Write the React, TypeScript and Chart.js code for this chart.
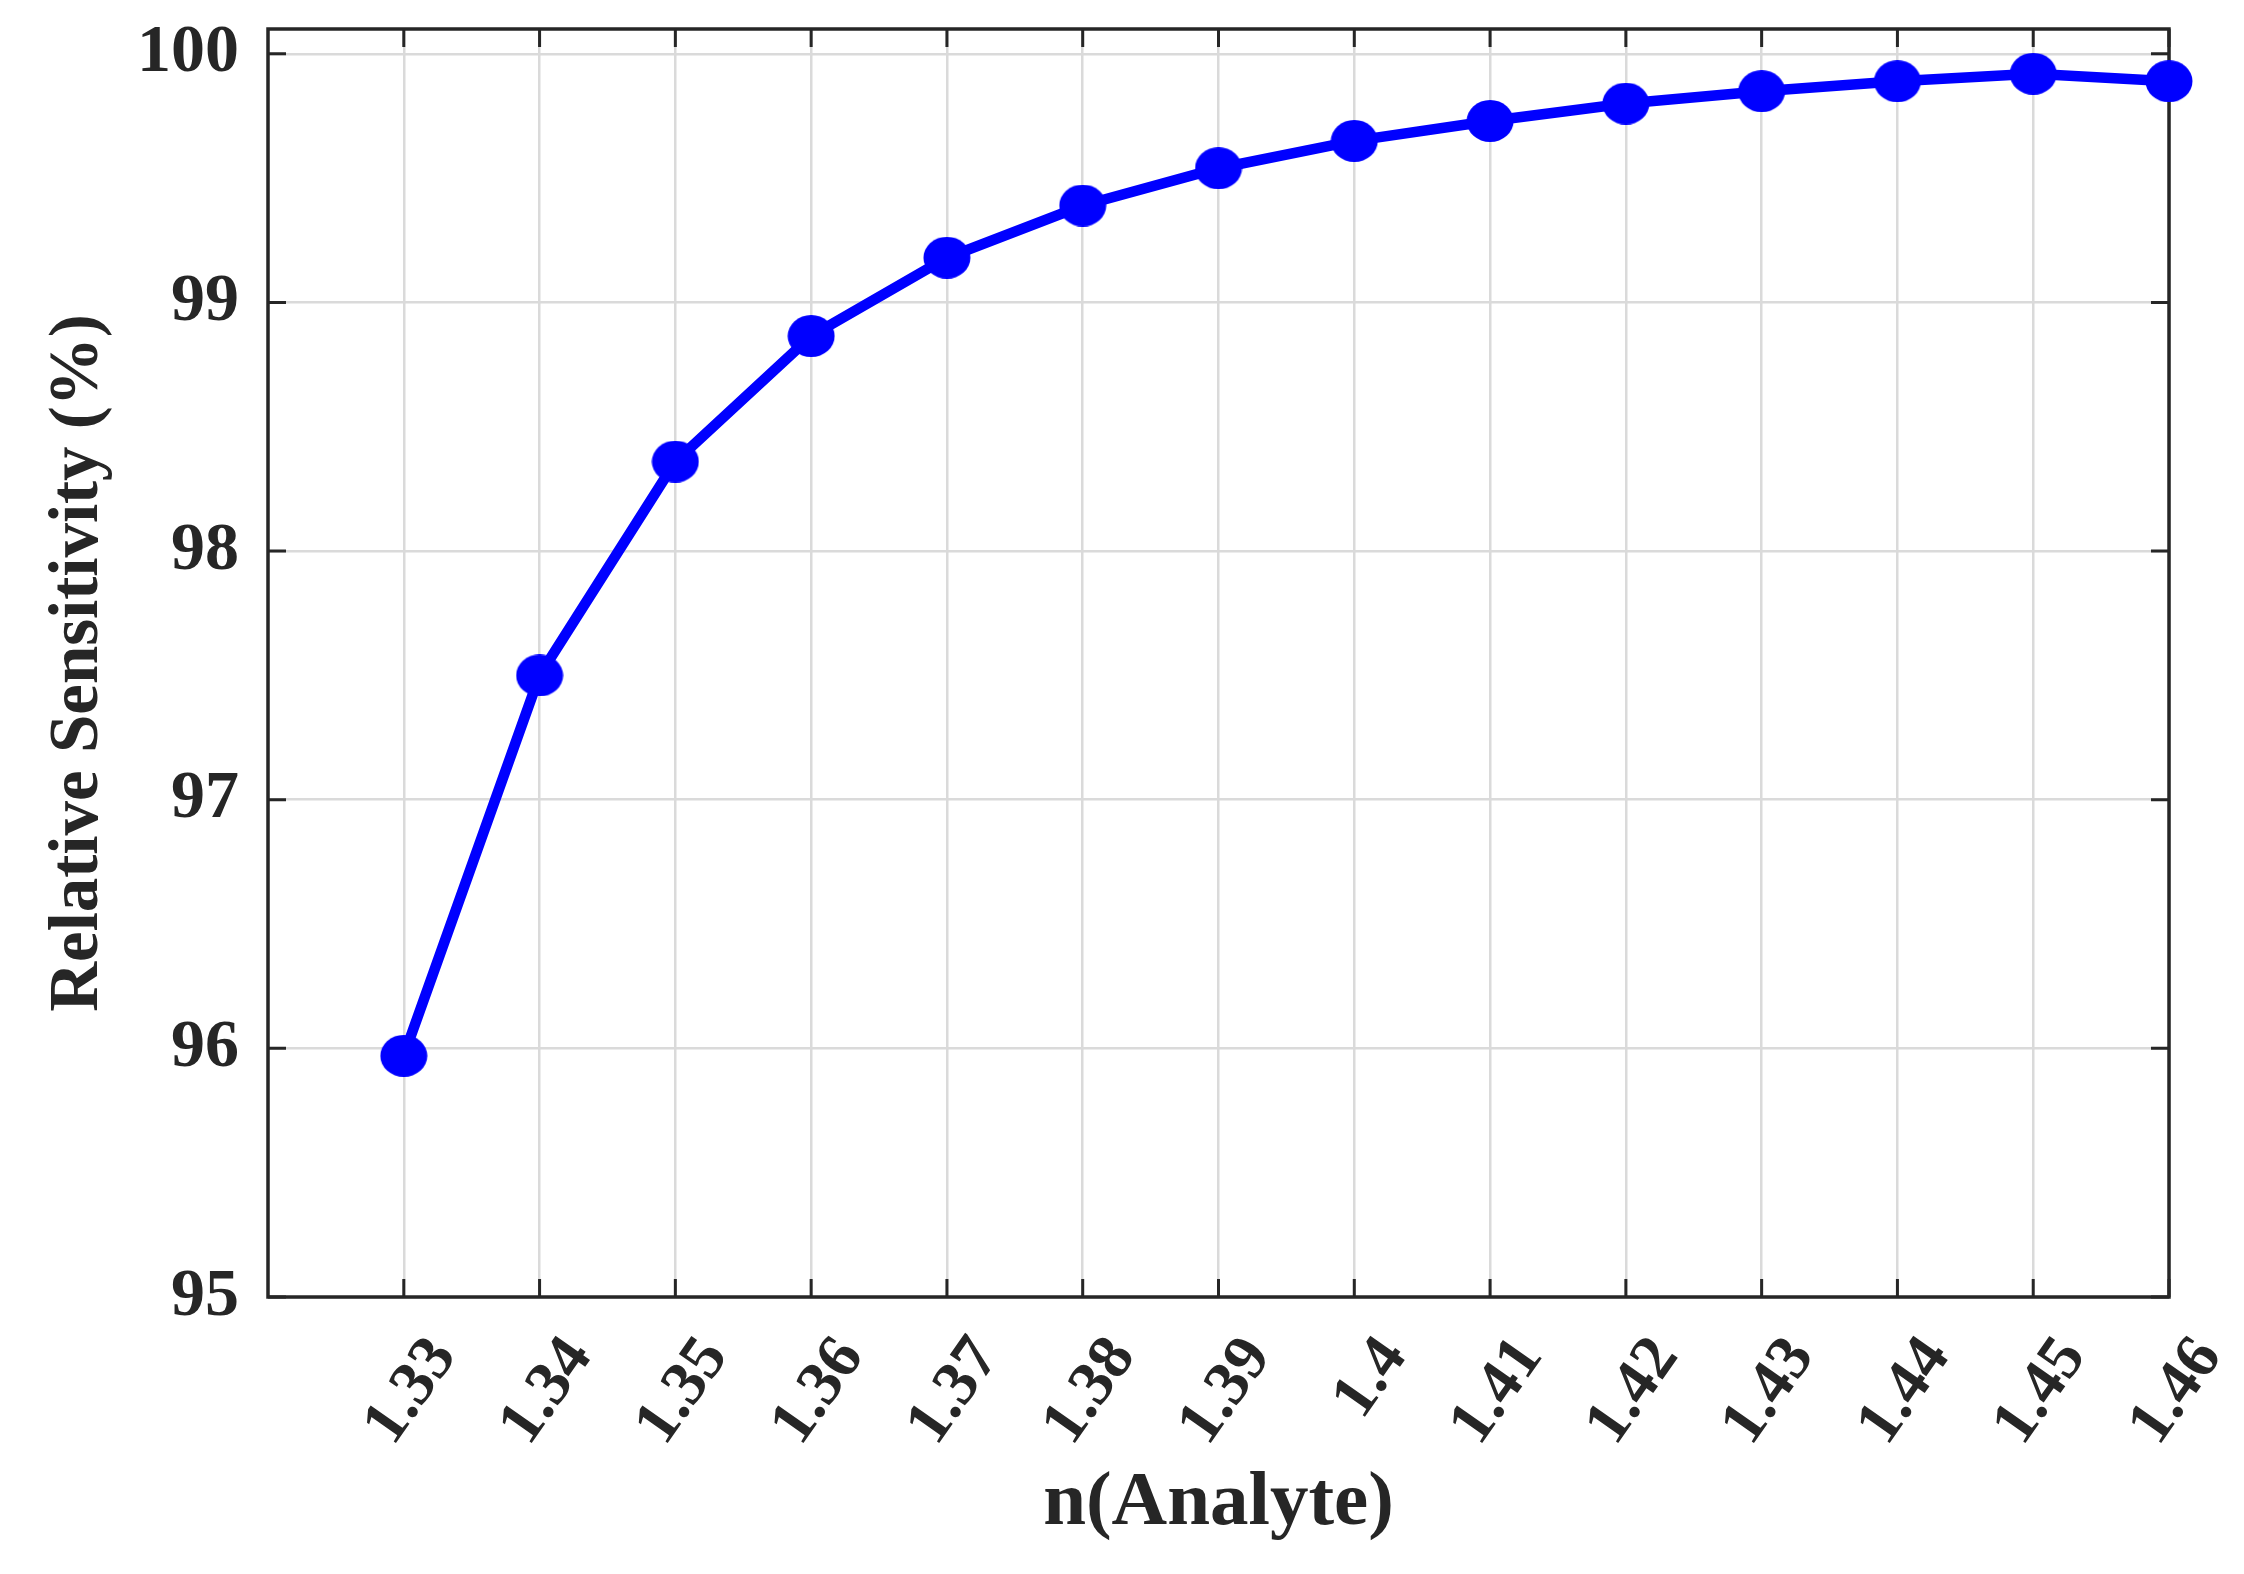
import React, { useEffect, useRef } from 'react';
import { Chart, registerables } from 'chart.js';

Chart.register(...registerables);

const nAnalyte = [1.33, 1.34, 1.35, 1.36, 1.37, 1.38, 1.39, 1.4, 1.41, 1.42, 1.43, 1.44, 1.45, 1.46];
const relSensitivity = [95.97, 97.5, 98.36, 98.865, 99.18, 99.39, 99.54, 99.65, 99.73, 99.8, 99.85, 99.89, 99.92, 99.89];
const xTickValues = [1.33, 1.34, 1.35, 1.36, 1.37, 1.38, 1.39, 1.4, 1.41, 1.42, 1.43, 1.44, 1.45, 1.46];
const yTickValues = [95, 96, 97, 98, 99, 100];
const xTitle = 'n(Analyte)';
const yTitle = 'Relative Sensitivity (%)';

const FONT = '"Liberation Serif", "Times New Roman", serif';
const TEXT = '#262626';
const GRID = '#dadada';
const BLUE = '#0000ff';

function makeMarker(): HTMLCanvasElement {
  const c = document.createElement('canvas');
  c.width = 48;
  c.height = 42;
  const g = c.getContext('2d') as CanvasRenderingContext2D;
  g.fillStyle = BLUE;
  g.beginPath();
  g.ellipse(24, 21, 23.5, 21, 0, 0, Math.PI * 2);
  g.fill();
  return c;
}

export default function App() {
  const ref = useRef<HTMLCanvasElement>(null);

  useEffect(() => {
    document.body.style.margin = '0';
    const marker = makeMarker();
    const frame = {
      id: 'frame',
      beforeDatasetsDraw(chart: any) {
        const { ctx, chartArea } = chart;
        const { left, right, top, bottom } = chartArea;
        const xs = chart.scales.x;
        const ys = chart.scales.y;
        const tl = 18;
        ctx.save();
        ctx.strokeStyle = TEXT;
        ctx.lineWidth = 3;
        ctx.beginPath();
        xs.ticks.forEach((t: any) => {
          const px = xs.getPixelForValue(t.value);
          ctx.moveTo(px, bottom);
          ctx.lineTo(px, bottom - tl);
          ctx.moveTo(px, top);
          ctx.lineTo(px, top + tl);
        });
        ys.ticks.forEach((t: any) => {
          const py = ys.getPixelForValue(t.value);
          ctx.moveTo(left, py);
          ctx.lineTo(left + tl, py);
          ctx.moveTo(right, py);
          ctx.lineTo(right - tl, py);
        });
        ctx.stroke();
        ctx.lineWidth = 3.5;
        ctx.strokeRect(left, top, right - left, bottom - top);
        ctx.restore();
      },
    };

    const zeroPad = (s: any) => {
      s.paddingTop = 0;
      s.paddingBottom = 0;
      s.paddingLeft = 0;
      s.paddingRight = 0;
    };

    const chart = new Chart(ref.current as HTMLCanvasElement, {
      type: 'line',
      data: {
        datasets: [
          {
            data: nAnalyte.map((x, i) => ({ x, y: relSensitivity[i] })),
            borderColor: BLUE,
            backgroundColor: BLUE,
            borderWidth: 10.5,
            pointStyle: marker as any,
            pointRadius: 22,
            pointHoverRadius: 22,
            pointBorderWidth: 0,
            pointBackgroundColor: BLUE,
            tension: 0,
            clip: false as any,
          },
        ],
      },
      options: {
        responsive: false,
        animation: false,
        devicePixelRatio: 1,
        layout: { padding: { top: 29, right: 75, left: 0, bottom: 0 } },
        plugins: { legend: { display: false }, tooltip: { enabled: false } },
        scales: {
          x: {
            type: 'linear',
            min: 1.32,
            max: 1.46,
            afterBuildTicks: (s: any) => {
              s.ticks = xTickValues.map((v) => ({ value: v }));
            },
            afterFit: (s: any) => {
              s.height = 277;
              zeroPad(s);
            },
            grid: { color: GRID, lineWidth: 2.5, drawTicks: false },
            border: { display: false },
            ticks: {
              autoSkip: false,
              minRotation: 55,
              maxRotation: 55,
              padding: 27,
              labelOffset: 40,
              color: TEXT,
              font: { family: FONT, size: 64, weight: 'bold' },
              callback: (v: any) => String(Number(Number(v).toFixed(2))),
            },
            title: {
              display: true,
              text: xTitle,
              color: TEXT,
              font: { family: FONT, size: 77, weight: 'bold' },
              padding: { top: 0, bottom: 24 },
            },
          },
          y: {
            type: 'linear',
            min: 95,
            max: 100.1,
            afterBuildTicks: (s: any) => {
              s.ticks = yTickValues.map((v) => ({ value: v }));
            },
            afterFit: (s: any) => {
              s.width = 268;
              zeroPad(s);
            },
            grid: { color: GRID, lineWidth: 2.5, drawTicks: false },
            border: { display: false },
            ticks: {
              padding: 29,
              color: TEXT,
              font: { family: FONT, size: 68, weight: 'bold' },
              callback: (v: any) => String(v),
            },
            title: {
              display: true,
              text: yTitle,
              color: TEXT,
              font: { family: FONT, size: 69, weight: 'bold' },
              padding: { top: 38, bottom: 0 },
            },
          },
        },
      } as any,
      plugins: [frame],
    });
    return () => chart.destroy();
  }, []);

  return (
    <div style={{ position: 'absolute', left: 0, top: 0, width: 2244, height: 1574, background: '#fff' }}>
      <canvas ref={ref} width={2244} height={1574} style={{ display: 'block', width: 2244, height: 1574 }} />
    </div>
  );
}
